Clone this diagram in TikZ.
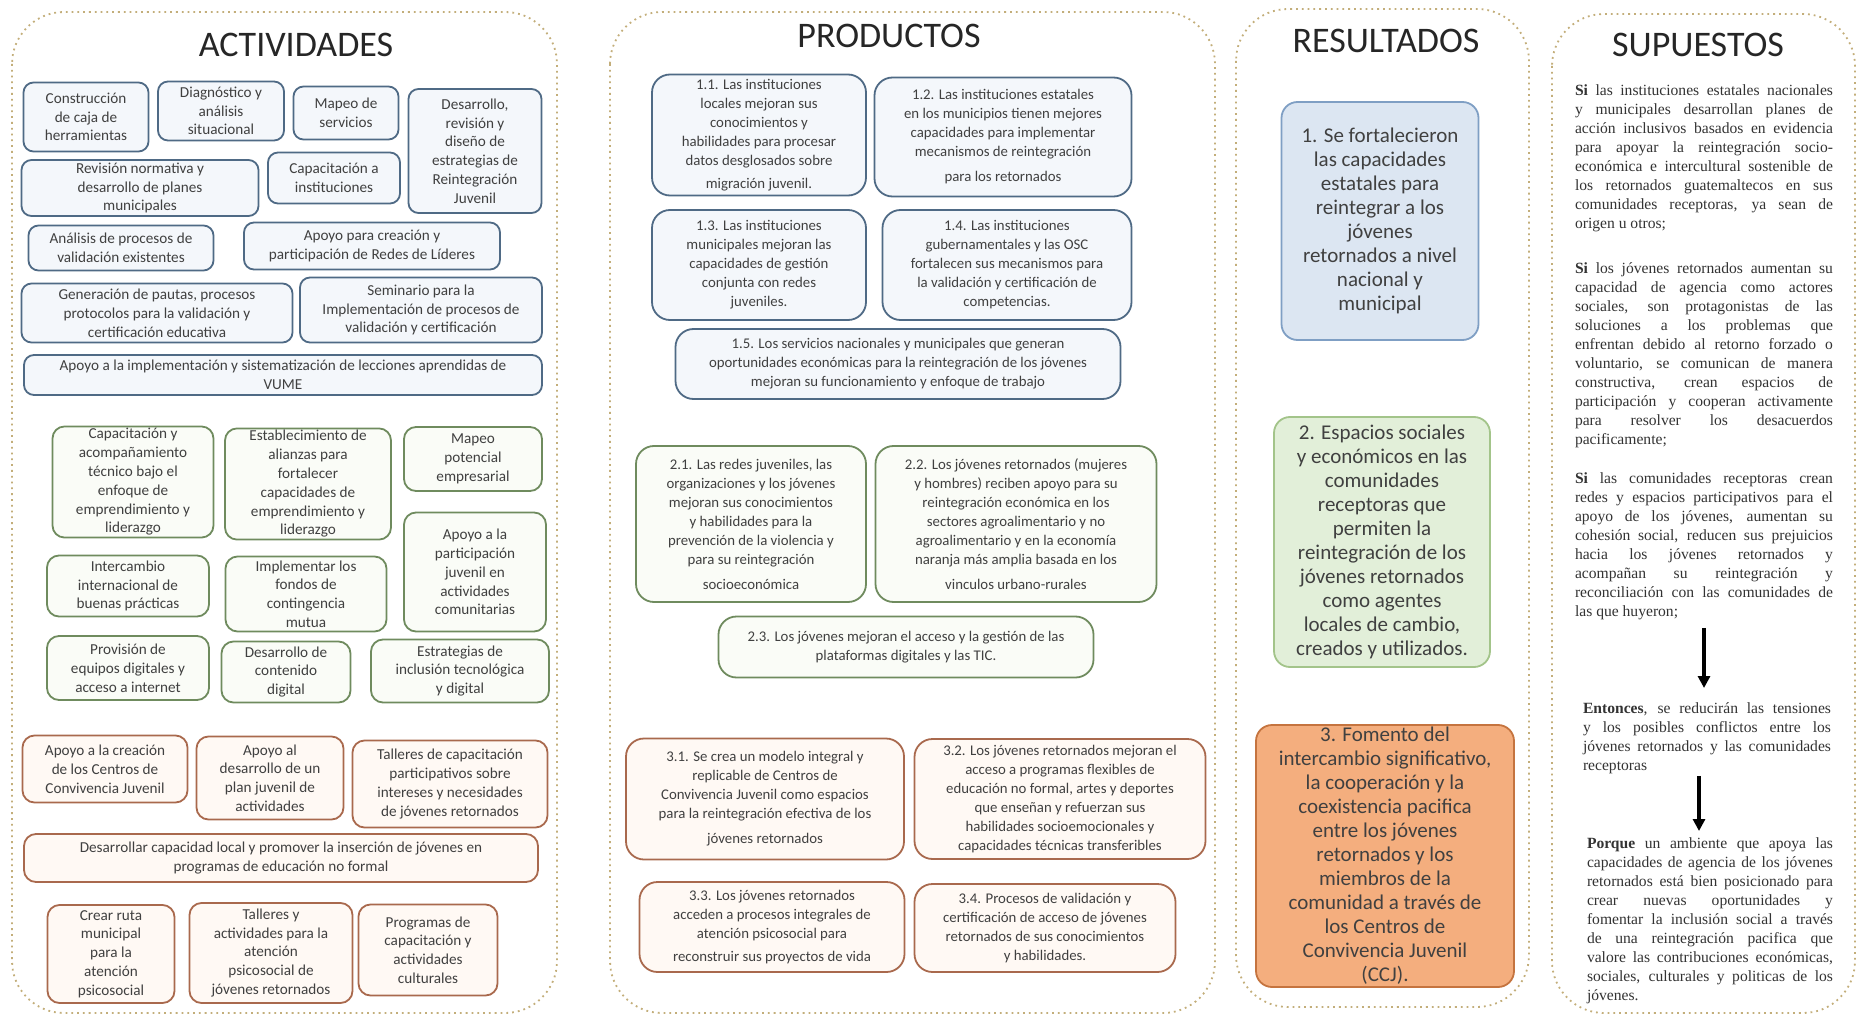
\documentclass[tikz,border=0pt]{standalone}
\usepackage{fontspec}
\setmainfont{Carlito}
\newfontfamily\timesfont{Liberation Serif}
\usetikzlibrary{arrows.meta}
\tolerance=10000
\hyphenpenalty=10000

\definecolor{textogris}{HTML}{404040}
\definecolor{bordepanel}{HTML}{C3AE7A}
\definecolor{bordeazul}{HTML}{4F6A85}
\definecolor{fondoazul}{HTML}{F4F7FB}
\definecolor{bordeverde}{HTML}{6F8B5E}
\definecolor{fondoverde}{HTML}{FAFCF7}
\definecolor{bordecafe}{HTML}{A9694D}
\definecolor{fondocafe}{HTML}{FFF9F4}
\definecolor{resazul}{HTML}{DCE6F2}
\definecolor{resazulb}{HTML}{7F9FC4}
\definecolor{resverde}{HTML}{E2EFD9}
\definecolor{resverdeb}{HTML}{A3C48A}
\definecolor{resnaranja}{HTML}{F4AE7E}
\definecolor{resnaranjab}{HTML}{C5743F}

\tikzset{
  panel/.style={draw=bordepanel,dotted,line width=0.9pt,rounded corners=26pt,fill=white},
  titulo/.style={font=\fontsize{18}{20}\selectfont,text=black!85},
  caja/.style={draw,line width=0.9pt,align=center,inner sep=1pt,text=textogris},
  act1/.style={caja,rounded corners=5pt,draw=bordeazul,fill=fondoazul,font=\fontsize{7.6}{9.4}\selectfont},
  act2/.style={caja,rounded corners=6pt,draw=bordeverde,fill=fondoverde,font=\fontsize{7.6}{9.4}\selectfont},
  act3/.style={caja,rounded corners=6pt,draw=bordecafe,fill=fondocafe,font=\fontsize{7.6}{9.4}\selectfont},
  prod1/.style={act1,rounded corners=9pt,font=\fontsize{7.4}{9.5}\selectfont},
  prod2/.style={act2,rounded corners=9pt,font=\fontsize{7.4}{9.5}\selectfont},
  prod3/.style={act3,rounded corners=9pt,font=\fontsize{7.4}{9.5}\selectfont},
  res/.style={caja,rounded corners=8pt,font=\fontsize{10.5}{12}\selectfont},
  supuesto/.style={anchor=north,inner sep=0pt,align=justify,text=black!80,
    font=\timesfont\fontsize{7.8}{9.5}\selectfont},
  flecha/.style={-{Triangle[width=6pt,length=6pt]},line width=1.6pt,black}
}

\begin{document}
\begin{tikzpicture}[x=0.5pt,y=-0.5pt]
\useasboundingbox (0,0) rectangle (1858,1016);

% columns
\draw[panel] (12,12) rectangle (557,1013);
\draw[panel] (610,12) rectangle (1215,1013);
\draw[panel] (1236,9) rectangle (1529,1007);
\draw[panel] (1552,14) rectangle (1855,1013);

\node[titulo] (tact) at (296,45) {ACTIVIDADES};
\node[titulo] (tprod) at (889,36) {PRODUCTOS};
\node[titulo] (tres) at (1386,41) {RESULTADOS};
\node[titulo] (tsup) at (1698,45) {SUPUESTOS};

% actividades, bloque 1
\node[act1,minimum width=62.5pt,minimum height=34.5pt] (c1) at (86,117) {Construcción\\de caja de\\herramientas};
\node[act1,minimum width=63pt,minimum height=29.5pt] (c2) at (221,111) {Diagnóstico y\\análisis\\situacional};
\node[act1,minimum width=52.5pt,minimum height=26.5pt] (c3) at (346,113) {Mapeo de\\servicios};
\node[act1,minimum width=66.5pt,minimum height=62pt] (c4) at (475,151) {Desarrollo,\\revisión y\\diseño de\\estrategias de\\Reintegración\\Juvenil};
\node[act1,minimum width=118.5pt,minimum height=28pt] (c5) at (140,188) {Revisión normativa y\\desarrollo de planes\\municipales};
\node[act1,minimum width=66pt,minimum height=25.5pt] (c6) at (334,178) {Capacitación a\\instituciones};
\node[act1,minimum width=92.5pt,minimum height=22.5pt] (c7) at (121,248) {Análisis de procesos de\\validación existentes};
\node[act1,minimum width=128pt,minimum height=23.5pt] (c8) at (372,246) {Apoyo para creación y\\participación de Redes de Líderes};
\node[act1,minimum width=135.5pt,minimum height=29.5pt] (c9) at (157,313) {Generación de pautas, procesos\\protocolos para la validación y\\certificación educativa};
\node[act1,minimum width=121pt,minimum height=32.5pt] (c10) at (421,310) {Seminario para la\\Implementación de procesos de\\validación y certificación};
\node[act1,minimum width=259pt,minimum height=20pt] (c11) at (283,375) {Apoyo a la implementación y sistematización de lecciones aprendidas de\\VUME};

% actividades, bloque 2
\node[act2,minimum width=80.5pt,minimum height=55pt] (c12) at (133,482) {Capacitación y\\acompañamiento\\técnico bajo el\\enfoque de\\emprendimiento y\\liderazgo};
\node[act2,minimum width=83pt,minimum height=55.5pt] (c13) at (308,484) {Establecimiento de\\alianzas para\\fortalecer\\capacidades de\\emprendimiento y\\liderazgo};
\node[act2,minimum width=69pt,minimum height=32pt] (c14) at (473,459) {Mapeo\\potencial\\empresarial};
\node[act2,minimum width=81pt,minimum height=30.5pt] (c15) at (128,586) {Intercambio\\internacional de\\buenas prácticas};
\node[act2,minimum width=80.5pt,minimum height=37.5pt] (c16) at (306,594) {Implementar los\\fondos de\\contingencia\\mutua};
\node[act2,minimum width=71pt,minimum height=59.5pt] (c17) at (475,572) {Apoyo a la\\participación\\juvenil en\\actividades\\comunitarias};
\node[act2,minimum width=81pt,minimum height=32pt] (c18) at (128,668) {Provisión de\\equipos digitales y\\acceso a internet};
\node[act2,minimum width=64.5pt,minimum height=30.5pt] (c19) at (286,672) {Desarrollo de\\contenido\\digital};
\node[act2,minimum width=89pt,minimum height=31.5pt] (c20) at (460,671) {Estrategias de\\inclusión tecnológica\\y digital};

% actividades, bloque 3
\node[act3,minimum width=82.5pt,minimum height=33.5pt] (c21) at (105,769) {Apoyo a la creación\\de los Centros de\\Convivencia Juvenil};
\node[act3,minimum width=73.5pt,minimum height=41.5pt] (c22) at (270,778) {Apoyo al\\desarrollo de un\\plan juvenil de\\actividades};
\node[act3,minimum width=97.5pt,minimum height=43.5pt] (c23) at (450,784) {Talleres de capacitación\\participativos sobre\\intereses y necesidades\\de jóvenes retornados};
\node[act3,minimum width=257pt,minimum height=24pt] (c24) at (281,858) {Desarrollar capacidad local y promover la inserción de jóvenes en\\programas de educación no formal};
\node[act3,minimum width=63.5pt,minimum height=49pt] (c25) at (111,954) {Crear ruta\\municipal\\para la\\atención\\psicosocial};
\node[act3,minimum width=81.5pt,minimum height=50pt] (c26) at (271,953) {Talleres y\\actividades para la\\atención\\psicosocial de\\jóvenes retornados};
\node[act3,minimum width=69.5pt,minimum height=45.5pt] (c27) at (428,950) {Programas de\\capacitación y\\actividades\\culturales};

% productos
\node[prod1,minimum width=107pt,minimum height=60.5pt] (p11) at (759,135) {1.1. Las instituciones\\locales mejoran sus\\conocimientos y\\habilidades para procesar\\datos desglosados sobre\\[2pt]migración juvenil.};
\node[prod1,minimum width=128.5pt,minimum height=59.5pt] (p12) at (1003,137) {1.2. Las instituciones estatales\\en los municipios tienen mejores\\capacidades para implementar\\mecanismos de reintegración\\[3pt]para los retornados};
\node[prod1,minimum width=107pt,minimum height=55pt] (p13) at (759,265) {1.3. Las instituciones\\municipales mejoran las\\capacidades de gestión\\conjunta con redes\\juveniles.};
\node[prod1,minimum width=124.5pt,minimum height=55pt] (p14) at (1007,265) {1.4. Las instituciones\\gubernamentales y las OSC\\fortalecen sus mecanismos para\\la validación y certificación de\\competencias.};
\node[prod1,minimum width=222.5pt,minimum height=35pt] (p15) at (898,364) {1.5. Los servicios nacionales y municipales que generan\\oportunidades económicas para la reintegración de los jóvenes\\mejoran su funcionamiento y enfoque de trabajo};

\node[prod2,minimum width=115pt,minimum height=78pt] (p21) at (751,524) {2.1. Las redes juveniles, las\\organizaciones y los jóvenes\\mejoran sus conocimientos\\y habilidades para la\\prevención de la violencia y\\para su reintegración\\[3pt]socioeconómica};
\node[prod2,minimum width=140.5pt,minimum height=78pt] (p22) at (1016,524) {2.2. Los jóvenes retornados (mujeres\\y hombres) reciben apoyo para su\\reintegración económica en los\\sectores agroalimentario y no\\agroalimentario y en la economía\\naranja más amplia basada en los\\[3pt]vinculos urbano-rurales};
\node[prod2,minimum width=187.5pt,minimum height=30.5pt] (p23) at (906,647) {2.3. Los jóvenes mejoran el acceso y la gestión de las\\plataformas digitales y las TIC.};

\node[prod3,minimum width=139pt,minimum height=60.5pt] (p31) at (765,799) {3.1. Se crea un modelo integral y\\replicable de Centros de\\Convivencia Juvenil como espacios\\para la reintegración efectiva de los\\[3pt]jóvenes retornados};
\node[prod3,minimum width=145.5pt,minimum height=60pt] (p32) at (1060,799) {3.2. Los jóvenes retornados mejoran el\\acceso a programas flexibles de\\educación no formal, artes y deportes\\que enseñan y refuerzan sus\\habilidades socioemocionales y\\capacidades técnicas transferibles};
\node[prod3,minimum width=132.5pt,minimum height=45pt] (p33) at (772,927) {3.3. Los jóvenes retornados\\acceden a procesos integrales de\\atención psicosocial para\\[2pt]reconstruir sus proyectos de vida};
\node[prod3,minimum width=130.5pt,minimum height=44pt] (p34) at (1045,928) {3.4. Procesos de validación y\\certificación de acceso de jóvenes\\retornados de sus conocimientos\\y habilidades.};

% resultados
\node[res,draw=resazulb,fill=resazul,minimum width=98.5pt,minimum height=119pt] (r1) at (1380,221) {1. Se fortalecieron\\las capacidades\\estatales para\\reintegrar a los\\jóvenes\\retornados a nivel\\nacional y\\municipal};
\node[res,draw=resverdeb,fill=resverde,minimum width=108pt,minimum height=125pt] (r2) at (1382,542) {2. Espacios sociales\\y económicos en las\\comunidades\\receptoras que\\permiten la\\reintegración de los\\jóvenes retornados\\como agentes\\locales de cambio,\\creados y utilizados.};
\node[res,draw=resnaranjab,fill=resnaranja,minimum width=129pt,minimum height=131pt] (r3) at (1385,856) {3. Fomento del\\intercambio significativo,\\la cooperación y la\\coexistencia pacifica\\entre los jóvenes\\retornados y los\\miembros de la\\comunidad a través de\\los Centros de\\Convivencia Juvenil\\(CCJ).};

% supuestos
\node[supuesto,text width=129pt] (s1) at (1704,84) {\textbf{Si} las instituciones estatales nacionales\linebreak y municipales desarrollan planes de\linebreak acción inclusivos basados en evidencia\linebreak para apoyar la reintegración socio-\linebreak económica e intercultural sostenible de\linebreak los retornados guatemaltecos en sus\linebreak comunidades receptoras, ya sean de\linebreak origen u otros;};
\node[supuesto,text width=129pt] (s2) at (1704,262) {\textbf{Si} los jóvenes retornados aumentan su\linebreak capacidad de agencia como actores\linebreak sociales, son protagonistas de las\linebreak soluciones a los problemas que\linebreak enfrentan debido al retorno forzado o\linebreak voluntario, se comunican de manera\linebreak constructiva, crean espacios de\linebreak participación y cooperan activamente\linebreak para resolver los desacuerdos\linebreak pacificamente;};
\node[supuesto,text width=129pt] (s3) at (1704,472) {\textbf{Si} las comunidades receptoras crean\linebreak redes y espacios participativos para el\linebreak apoyo de los jóvenes, aumentan su\linebreak cohesión social, reducen sus prejuicios\linebreak hacia los jóvenes retornados y\linebreak acompañan su reintegración y\linebreak reconciliación con las comunidades de\linebreak las que huyeron;};
\node[supuesto,text width=124pt] (s4) at (1707,702) {\textbf{Entonces}, se reducirán las tensiones\linebreak y los posibles conflictos entre los\linebreak jóvenes retornados y las comunidades\linebreak receptoras};
\node[supuesto,text width=123pt] (s5) at (1710,837) {\textbf{Porque} un ambiente que apoya las\linebreak capacidades de agencia de los jóvenes\linebreak retornados está bien posicionado para\linebreak crear nuevas oportunidades y\linebreak fomentar la inclusión social a través\linebreak de una reintegración pacifica que\linebreak valore las contribuciones económicas,\linebreak sociales, culturales y politicas de los\linebreak jóvenes.};

\draw[flecha,shorten <=4pt,shorten >=7pt] (s3.south) -- (s3.south |- s4.north);
\draw[flecha,shorten <=1pt,shorten >=3pt] ([xshift=-4pt]s4.south) -- ([xshift=-4pt]s4.south |- s5.north);
\end{tikzpicture}
\end{document}
